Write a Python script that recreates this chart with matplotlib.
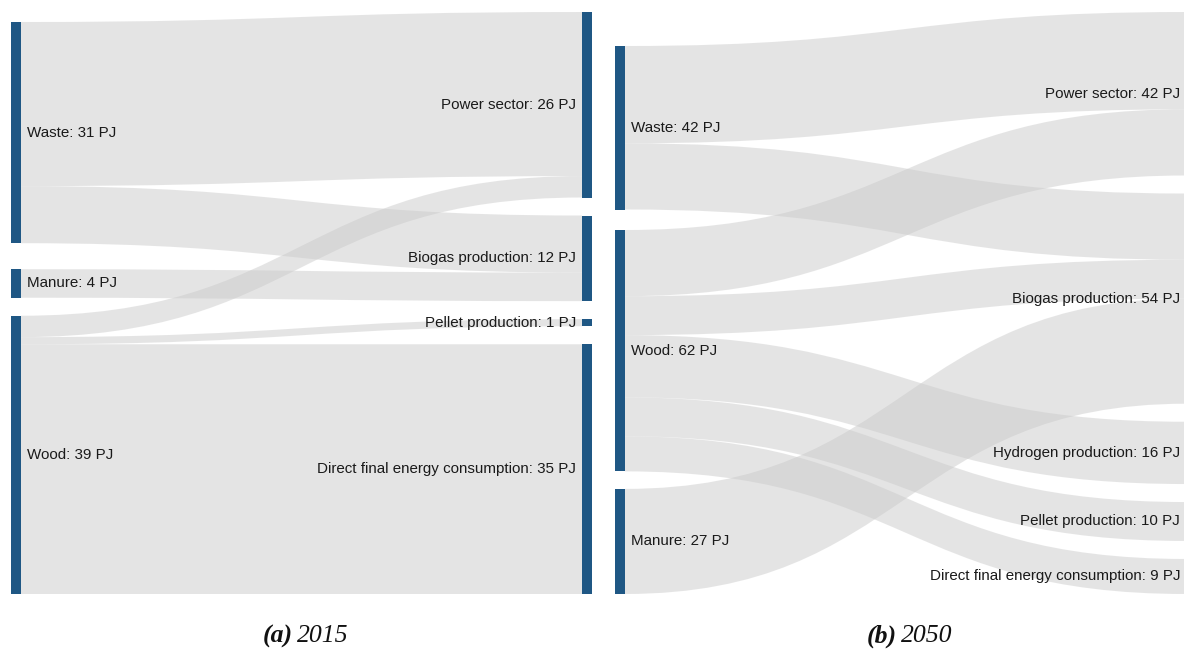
import matplotlib.pyplot as plt
import numpy as np
from matplotlib.path import Path
from matplotlib.patches import PathPatch, Rectangle

# %% Data
sources_2015 = ['Waste', 'Manure', 'Wood']
targets_2015 = ['Power sector', 'Biogas production', 'Pellet production',
                'Direct final energy consumption']
link_src_2015 = ['Waste', 'Waste', 'Manure', 'Wood', 'Wood', 'Wood']
link_tgt_2015 = ['Power sector', 'Biogas production', 'Biogas production',
                 'Power sector', 'Pellet production',
                 'Direct final energy consumption']
link_val_2015 = [23, 8, 4, 3, 1, 35]

sources_2050 = ['Waste', 'Wood', 'Manure']
targets_2050 = ['Power sector', 'Biogas production', 'Hydrogen production',
                'Pellet production', 'Direct final energy consumption']
link_src_2050 = ['Waste', 'Waste', 'Wood', 'Wood', 'Wood', 'Wood', 'Wood',
                 'Manure']
link_tgt_2050 = ['Power sector', 'Biogas production', 'Power sector',
                 'Biogas production', 'Hydrogen production',
                 'Pellet production', 'Direct final energy consumption',
                 'Biogas production']
link_val_2050 = [25, 17, 17, 10, 16, 10, 9, 27]

# %% Layout (pixels)
W, H = 1184, 650
TOP, BOTTOM = 12, 594
NODE_W = 10
GAP = 18
NODE_COLOR = '#1f5784'
LINK_COLOR = '#cbcbcb'
LABEL_FONT = dict(family='Liberation Sans', size=10.9, color='#1a1a1a')

panels = [
    dict(x0=11, x1=582, sources=sources_2015, targets=targets_2015,
         src=link_src_2015, tgt=link_tgt_2015, val=link_val_2015,
         src_gaps=[10, 26, 18], caption=('(a)', '2015')),
    dict(x0=615, x1=1186, sources=sources_2050, targets=targets_2050,
         src=link_src_2050, tgt=link_tgt_2050, val=link_val_2050,
         src_gaps=[34, 20.5, 17.5], caption=('(b)', '2050')),
]


def band(ax, xa, ya0, ya1, xb, yb0, yb1):
    xm = (xa + xb) / 2
    verts = [(xa, ya0), (xm, ya0), (xm, yb0), (xb, yb0),
             (xb, yb1), (xm, yb1), (xm, ya1), (xa, ya1), (xa, ya0)]
    codes = [Path.MOVETO, Path.CURVE4, Path.CURVE4, Path.CURVE4,
             Path.LINETO, Path.CURVE4, Path.CURVE4, Path.CURVE4,
             Path.CLOSEPOLY]
    ax.add_patch(PathPatch(Path(verts, codes), facecolor=LINK_COLOR,
                           edgecolor='none', alpha=0.5, zorder=1))


fig = plt.figure(figsize=(W / 100, H / 100), dpi=100)
ax = fig.add_axes([0, 0, 1, 1])
ax.set_xlim(0, W)
ax.set_ylim(H, 0)
ax.axis('off')

for p in panels:
    src = np.array(p['src'])
    tgt = np.array(p['tgt'])
    val = np.array(p['val'], dtype=float)
    total = val.sum()
    scale = (BOTTOM - TOP - GAP * (len(p['targets']) - 1)) / total

    # node positions
    src_tot = {n: val[src == n].sum() for n in p['sources']}
    tgt_tot = {n: val[tgt == n].sum() for n in p['targets']}
    src_top = {}
    y = TOP
    for n, g in zip(p['sources'], p['src_gaps']):
        y += g
        src_top[n] = y
        y += src_tot[n] * scale
    tgt_top = {}
    y = TOP
    for n in p['targets']:
        tgt_top[n] = y
        y += tgt_tot[n] * scale + GAP

    # links: ordered by target at the source, by source at the target
    s_off = dict(src_top)
    order = sorted(range(len(val)),
                   key=lambda i: (p['sources'].index(src[i]),
                                  p['targets'].index(tgt[i])))
    starts = {}
    for i in order:
        h = val[i] * scale
        starts[i] = (s_off[src[i]], s_off[src[i]] + h)
        s_off[src[i]] += h
    t_off = dict(tgt_top)
    order_t = sorted(range(len(val)),
                     key=lambda i: (p['targets'].index(tgt[i]),
                                    p['sources'].index(src[i])))
    for i in order_t:
        h = val[i] * scale
        ya0, ya1 = starts[i]
        band(ax, p['x0'] + NODE_W, ya0, ya1,
             p['x1'], t_off[tgt[i]], t_off[tgt[i]] + h)
        t_off[tgt[i]] += h

    # nodes and labels
    for n in p['sources']:
        h = src_tot[n] * scale
        ax.add_patch(Rectangle((p['x0'], src_top[n]), NODE_W, h,
                               facecolor=NODE_COLOR, edgecolor='none',
                               zorder=3))
        ax.text(p['x0'] + NODE_W + 6, src_top[n] + h / 2,
                f'{n}: {src_tot[n]:.0f} PJ', ha='left', va='center',
                zorder=4, **LABEL_FONT)
    for n in p['targets']:
        h = tgt_tot[n] * scale
        ax.add_patch(Rectangle((p['x1'], tgt_top[n]), NODE_W, h,
                               facecolor=NODE_COLOR, edgecolor='none',
                               zorder=3))
        ax.text(p['x1'] - 6, tgt_top[n] + h / 2,
                f'{n}: {tgt_tot[n]:.0f} PJ', ha='right', va='center',
                zorder=4, **LABEL_FONT)

    # caption
    cx = (p['x0'] + p['x1'] + NODE_W) / 2
    ax.text(cx - 9, 636, p['caption'][0], ha='right', va='center',
            family='Liberation Serif', style='italic', weight='bold',
            size=18.5, color='#111111')
    ax.text(cx - 5, 636, p['caption'][1], ha='left', va='center',
            family='Liberation Serif', style='italic', size=18.5,
            color='#111111')

fig.savefig('out.png', dpi=100)
